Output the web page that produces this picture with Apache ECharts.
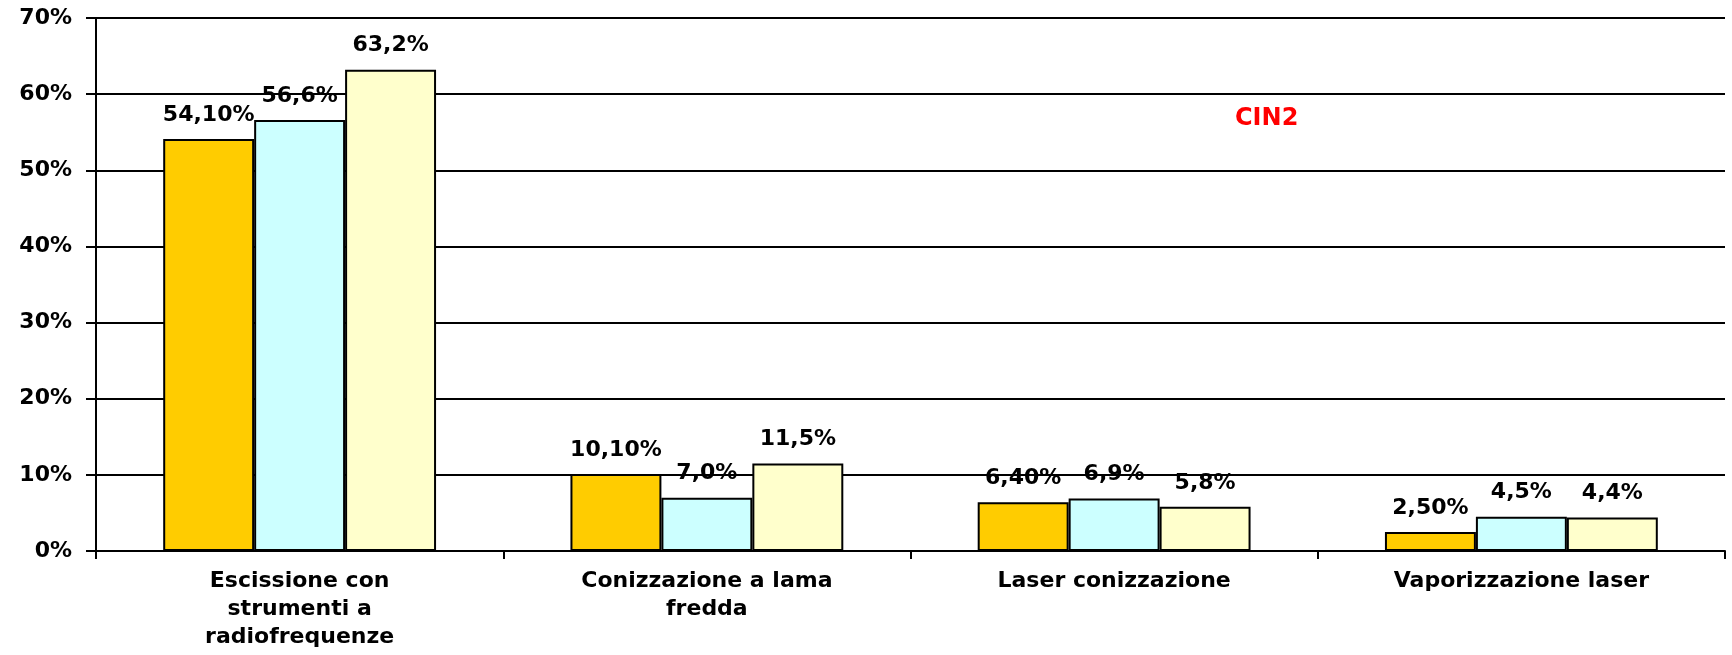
<!DOCTYPE html>
<html>
<head>
<meta charset="utf-8">
<title>CIN2</title>
<script src="https://cdn.jsdelivr.net/npm/echarts@6/dist/echarts.min.js"></script>
<style>
  html, body { margin: 0; padding: 0; background: #fff; }
  #chart { width: 1732px; height: 655px; }
</style>
</head>
<body>
<div id="chart"></div>
<script>
  var categories = ['Escissione con\nstrumenti a\nradiofrequenze', 'Conizzazione a lama\nfredda', 'Laser conizzazione', 'Vaporizzazione laser'];
  var serie1 = [54.1, 10.1, 6.4, 2.5];
  var serie2 = [56.6, 7.0, 6.9, 4.5];
  var serie3 = [63.2, 11.5, 5.8, 4.4];
  var yTicks = [0, 10, 20, 30, 40, 50, 60, 70];

  var font = 'DejaVu Sans';
  var colors = ['#ffcc00', '#ccffff', '#ffffcc'];
  // decimali stampati nelle etichette (la prima serie ne usa due)
  var decimals = [2, 1, 1];

  function makeSerie(name, data, i) {
    return {
      name: name,
      type: 'bar',
      barGap: 0,
      barCategoryGap: '33%',
      data: data,
      itemStyle: {
        color: colors[i],
        borderColor: '#000',
        borderWidth: 2
      },
      label: {
        show: true,
        position: 'top',
        distance: 13,
        color: '#000',
        fontFamily: font,
        fontWeight: 'bold',
        fontSize: 22,
        formatter: function (p) {
          return p.value.toFixed(decimals[i]).replace('.', ',') + '%';
        }
      }
    };
  }

  var myChart = echarts.init(document.getElementById('chart'));
  var option = {
    animation: false,
    backgroundColor: '#fff',
    grid: {
      left: 96,
      right: 7,
      top: 18,
      bottom: 104
    },
    xAxis: {
      type: 'category',
      data: categories,
      axisLine: { lineStyle: { color: '#000', width: 2 } },
      axisTick: { show: true, length: 8, lineStyle: { color: '#000', width: 2 } },
      axisLabel: {
        margin: 16,
        color: '#000',
        fontFamily: font,
        fontWeight: 'bold',
        fontSize: 22,
        lineHeight: 28,
        interval: 0
      }
    },
    yAxis: {
      type: 'value',
      min: yTicks[0],
      max: yTicks[yTicks.length - 1],
      interval: 10,
      axisLine: { show: true, lineStyle: { color: '#000', width: 2 } },
      axisTick: { show: true, length: 10, lineStyle: { color: '#000', width: 2 } },
      axisLabel: {
        margin: 24,
        color: '#000',
        fontFamily: font,
        fontWeight: 'bold',
        fontSize: 22,
        formatter: '{value}%'
      },
      splitLine: { lineStyle: { color: '#000', width: 2 } }
    },
    graphic: [{
      type: 'text',
      left: 1235,
      top: 107,
      style: {
        text: 'CIN2',
        fill: '#ff0000',
        font: 'bold 24px "DejaVu Sans"'
      }
    }],
    series: [
      makeSerie('Serie 1', serie1, 0),
      makeSerie('Serie 2', serie2, 1),
      makeSerie('Serie 3', serie3, 2)
    ]
  };
  myChart.setOption(option);
</script>
</body>
</html>
